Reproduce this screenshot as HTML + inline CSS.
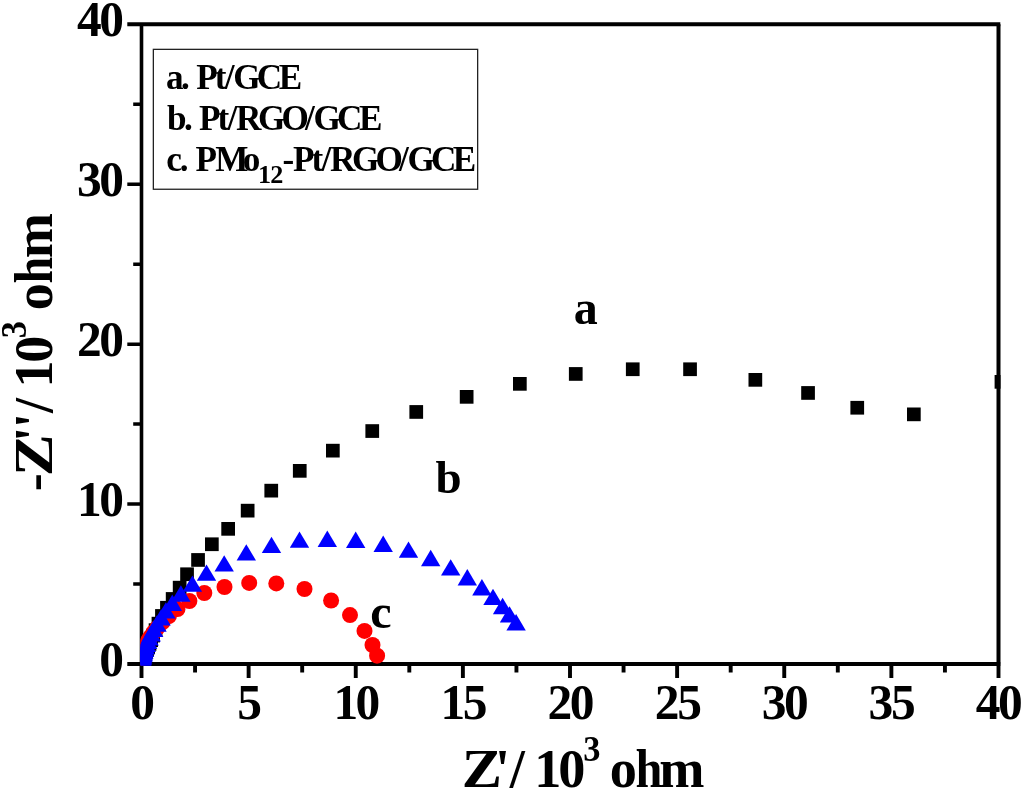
<!DOCTYPE html>
<html lang="en"><head><meta charset="utf-8"><title>Nyquist plot</title>
<style>html,body{margin:0;padding:0;background:#fff}body{width:1024px;height:791px;overflow:hidden}svg{display:block}text{font-family:"Liberation Serif",serif;font-weight:bold;fill:#000;white-space:pre}</style></head><body>
<svg width="1024" height="791" viewBox="0 0 1024 791">
<rect x="0" y="0" width="1024" height="791" fill="#fff"/>
<defs><clipPath id="c"><rect x="140.5" y="22" width="860" height="643.5"/></clipPath></defs>
<g stroke="#000" fill="none" stroke-linecap="butt">
<path stroke-width="4" d="M127.3 24.3H1000.3M127.3 664.0H1000.3"/>
<path stroke-width="3.6" d="M141.5 24.3V664.0"/><path stroke-width="4" d="M998.5 24.3V664.0"/>
<path stroke-width="3.9" d="M141.50 664.0V678.0M248.62 664.0V678.0M355.75 664.0V678.0M462.88 664.0V678.0M570.00 664.0V678.0M677.12 664.0V678.0M784.25 664.0V678.0M891.38 664.0V678.0M998.50 664.0V678.0M195.06 664.0V672.4M302.19 664.0V672.4M409.31 664.0V672.4M516.44 664.0V672.4M623.56 664.0V672.4M730.69 664.0V672.4M837.81 664.0V672.4M944.94 664.0V672.4"/>
<path stroke-width="3.5" d="M141.5 504.07H127.3M141.5 344.15H127.3M141.5 184.22H127.3M141.5 584.04H133.2M141.5 424.11H133.2M141.5 264.19H133.2M141.5 104.26H133.2"/>
</g>
<g clip-path="url(#c)">
<g fill="#000">
<rect x="994.6" y="375.0" width="13.7" height="13.7"/>
<rect x="907.0" y="407.5" width="13.7" height="13.7"/>
<rect x="850.4" y="400.9" width="13.7" height="13.7"/>
<rect x="801.2" y="386.1" width="13.7" height="13.7"/>
<rect x="748.5" y="373.0" width="13.7" height="13.7"/>
<rect x="683.2" y="362.4" width="13.7" height="13.7"/>
<rect x="625.9" y="362.4" width="13.7" height="13.7"/>
<rect x="568.9" y="367.1" width="13.7" height="13.7"/>
<rect x="513.0" y="377.0" width="13.7" height="13.7"/>
<rect x="459.8" y="390.0" width="13.7" height="13.7"/>
<rect x="409.4" y="405.1" width="13.7" height="13.7"/>
<rect x="365.4" y="424.2" width="13.7" height="13.7"/>
<rect x="326.0" y="443.8" width="13.7" height="13.7"/>
<rect x="292.9" y="464.0" width="13.7" height="13.7"/>
<rect x="264.4" y="483.8" width="13.7" height="13.7"/>
<rect x="240.8" y="503.8" width="13.7" height="13.7"/>
<rect x="221.3" y="522.0" width="13.7" height="13.7"/>
<rect x="205.0" y="537.4" width="13.7" height="13.7"/>
<rect x="191.2" y="553.1" width="13.7" height="13.7"/>
<rect x="180.2" y="567.4" width="13.7" height="13.7"/>
<rect x="172.8" y="580.8" width="13.7" height="13.7"/>
<rect x="165.8" y="592.1" width="13.7" height="13.7"/>
<rect x="160.1" y="600.9" width="13.7" height="13.7"/>
<rect x="155.1" y="609.1" width="13.7" height="13.7"/>
<rect x="151.6" y="616.8" width="13.7" height="13.7"/>
<rect x="148.7" y="623.3" width="13.7" height="13.7"/>
<rect x="146.3" y="628.7" width="13.7" height="13.7"/>
<rect x="144.3" y="633.3" width="13.7" height="13.7"/>
<rect x="142.7" y="637.1" width="13.7" height="13.7"/>
<rect x="141.3" y="640.3" width="13.7" height="13.7"/>
<rect x="140.2" y="643.0" width="13.7" height="13.7"/>
<rect x="139.2" y="645.3" width="13.7" height="13.7"/>
<rect x="138.5" y="647.2" width="13.7" height="13.7"/>
<rect x="137.8" y="648.8" width="13.7" height="13.7"/>
<rect x="137.3" y="650.1" width="13.7" height="13.7"/>
<rect x="136.8" y="651.2" width="13.7" height="13.7"/>
<rect x="136.5" y="652.2" width="13.7" height="13.7"/>
<rect x="136.2" y="653.0" width="13.7" height="13.7"/>
<rect x="135.9" y="653.6" width="13.7" height="13.7"/>
<rect x="135.7" y="654.2" width="13.7" height="13.7"/>
<rect x="135.5" y="654.7" width="13.7" height="13.7"/>
<rect x="135.4" y="655.1" width="13.7" height="13.7"/>
</g><g fill="#f00">
<circle cx="377.1" cy="655.7" r="8.0"/>
<circle cx="372.5" cy="645.0" r="8.0"/>
<circle cx="364.5" cy="630.9" r="8.0"/>
<circle cx="350.0" cy="615.1" r="8.0"/>
<circle cx="331.1" cy="600.5" r="8.0"/>
<circle cx="304.5" cy="589.0" r="8.0"/>
<circle cx="276.3" cy="583.4" r="8.0"/>
<circle cx="249.2" cy="582.9" r="8.0"/>
<circle cx="224.5" cy="587.0" r="8.0"/>
<circle cx="204.3" cy="593.0" r="8.0"/>
<circle cx="189.4" cy="601.0" r="8.0"/>
<circle cx="177.5" cy="609.1" r="8.0"/>
<circle cx="168.9" cy="616.2" r="8.0"/>
<circle cx="162.3" cy="622.4" r="8.0"/>
<circle cx="157.3" cy="627.8" r="8.0"/>
<circle cx="153.5" cy="632.5" r="8.0"/>
<circle cx="150.6" cy="636.6" r="8.0"/>
<circle cx="148.4" cy="640.2" r="8.0"/>
<circle cx="146.8" cy="643.3" r="8.0"/>
<circle cx="145.5" cy="646.0" r="8.0"/>
<circle cx="144.5" cy="648.3" r="8.0"/>
<circle cx="143.8" cy="650.4" r="8.0"/>
<circle cx="143.3" cy="652.1" r="8.0"/>
<circle cx="142.8" cy="653.7" r="8.0"/>
<circle cx="142.5" cy="655.0" r="8.0"/>
<circle cx="142.3" cy="656.2" r="8.0"/>
<circle cx="142.1" cy="657.2" r="8.0"/>
<circle cx="141.9" cy="658.1" r="8.0"/>
</g><g fill="#00f">
<path d="M516.1 614.1L525.8 630.5H506.4Z"/>
<path d="M509.5 606.2L519.2 622.6H499.8Z"/>
<path d="M502.6 597.8L512.3 614.2H492.9Z"/>
<path d="M493.0 588.7L502.7 605.1H483.3Z"/>
<path d="M481.9 579.1L491.6 595.5H472.2Z"/>
<path d="M467.3 569.1L477.0 585.5H457.6Z"/>
<path d="M450.7 559.2L460.4 575.6H441.0Z"/>
<path d="M430.7 549.8L440.4 566.2H421.0Z"/>
<path d="M408.5 541.4L418.2 557.8H398.8Z"/>
<path d="M383.2 535.5L392.9 551.9H373.5Z"/>
<path d="M355.7 531.5L365.4 547.9H346.0Z"/>
<path d="M327.3 530.5L337.0 546.9H317.6Z"/>
<path d="M299.5 531.4L309.2 547.8H289.8Z"/>
<path d="M271.5 536.7L281.2 553.1H261.8Z"/>
<path d="M246.3 544.2L256.0 560.6H236.6Z"/>
<path d="M224.2 555.2L233.9 571.6H214.5Z"/>
<path d="M206.5 564.4L216.2 580.8H196.8Z"/>
<path d="M192.4 575.4L202.1 591.8H182.7Z"/>
<path d="M180.9 585.3L190.6 601.7H171.2Z"/>
<path d="M172.3 594.6L182.0 611.0H162.6Z"/>
<path d="M165.9 602.2L175.6 618.6H156.2Z"/>
<path d="M161.1 609.2L170.8 625.6H151.4Z"/>
<path d="M157.0 615.3L166.7 631.7H147.3Z"/>
<path d="M153.7 620.5L163.4 636.9H144.0Z"/>
<path d="M151.2 625.1L160.9 641.5H141.5Z"/>
<path d="M149.1 629.1L158.8 645.5H139.4Z"/>
<path d="M147.5 632.6L157.2 649.0H137.8Z"/>
<path d="M146.3 635.6L156.0 652.0H136.6Z"/>
<path d="M145.3 638.2L155.0 654.6H135.6Z"/>
<path d="M144.5 640.5L154.2 656.9H134.8Z"/>
<path d="M143.8 642.5L153.5 658.9H134.1Z"/>
<path d="M143.4 644.2L153.1 660.6H133.7Z"/>
<path d="M143.0 645.7L152.7 662.1H133.3Z"/>
<path d="M142.7 647.0L152.4 663.4H133.0Z"/>
<path d="M142.4 648.2L152.1 664.6H132.7Z"/>
<path d="M142.2 649.2L151.9 665.6H132.5Z"/>
<path d="M142.1 650.0L151.8 666.4H132.4Z"/>
<path d="M142.0 650.8L151.7 667.2H132.3Z"/>
</g></g>
<rect x="153.35" y="49.35" width="324.3" height="139.9" fill="#fff" stroke="#222" stroke-width="1.3"/>
<text x="165.9 181.1 188.6 196.2 214.7 224.8 233.2 256.8 278.7" y="89.4" font-size="35.2">a. Pt/GCE</text>
<text x="167.0 183.9 191.4 199.0 217.5 227.6 236.0 257.9 281.5 305.0 313.5 337.0 358.9" y="129.8" font-size="35.2">b. Pt/RGO/GCE</text>
<text y="170.5" font-size="35.2"><tspan x="166.2 179.7 187.3 195.4 215.2 242.8">c. PMo</tspan><tspan x="258.1 270.3" dy="12.4" font-size="26.2">12</tspan><tspan x="282.6 293.0 311.5 321.6 330.0 351.9 375.4 399.0 407.4 430.9 452.8" dy="-12.4">-Pt/RGO/GCE</tspan></text>
<text transform="scale(0.97 1)" x="134.2" y="718.7" font-size="51">0</text>
<text transform="scale(0.97 1)" x="244.5" y="718.7" font-size="51">5</text>
<text transform="scale(0.97 1)" x="343.7 366.6" y="718.7" font-size="51">10</text>
<text transform="scale(0.97 1)" x="454.2 477.1" y="718.7" font-size="51">15</text>
<text transform="scale(0.97 1)" x="564.4 587.4" y="718.7" font-size="51">20</text>
<text transform="scale(0.97 1)" x="675.1 698.1" y="718.7" font-size="51">25</text>
<text transform="scale(0.97 1)" x="785.4 808.3" y="718.7" font-size="51">30</text>
<text transform="scale(0.97 1)" x="895.5 918.5" y="718.7" font-size="51">35</text>
<text transform="scale(0.97 1)" x="1005.9 1028.8" y="718.7" font-size="51">40</text>
<text transform="scale(0.97 1)" x="102.2" y="676.1" font-size="51">0</text>
<text transform="scale(0.97 1)" x="79.3 102.2" y="516.2" font-size="51">10</text>
<text transform="scale(0.97 1)" x="79.3 102.2" y="356.2" font-size="51">20</text>
<text transform="scale(0.97 1)" x="79.3 102.2" y="196.3" font-size="51">30</text>
<text transform="scale(0.97 1)" x="79.3 102.2" y="36.4" font-size="51">40</text>
<text transform="scale(0.97 1)" y="787.4" font-size="56"><tspan x="476.1" textLength="41.5" lengthAdjust="spacingAndGlyphs">Z</tspan><tspan x="510.2 525.4 539.2 550.8 575.5">'/ 10</tspan><tspan x="601.2" dy="-26.1" font-size="35.5">3</tspan><tspan x="616.5 628.5" dy="26.1"> o</tspan><tspan x="655.1" textLength="27.7" lengthAdjust="spacingAndGlyphs">h</tspan><tspan x="679.7">m</tspan></text>
<text transform="translate(52.2 491.2) rotate(-90) scale(0.97 1)" y="0" font-size="55.8"><tspan x="0.0">-</tspan><tspan x="15.3" textLength="43.2" lengthAdjust="spacingAndGlyphs">Z</tspan><tspan x="51.1 65.1 80.5 94.9 106.9 132.4">''/ 10</tspan><tspan x="157.7" dy="-26.0" font-size="35.5">3</tspan><tspan x="174.3 186.6" dy="26.0"> o</tspan><tspan x="214.1" textLength="27.6" lengthAdjust="spacingAndGlyphs">h</tspan><tspan x="240.1">m</tspan></text>
<g font-size="48"><text x="573.7" y="323.8">a</text><text x="435.4" y="492.5" font-size="47">b</text><text x="370.3" y="628.4">c</text></g>
</svg></body></html>
